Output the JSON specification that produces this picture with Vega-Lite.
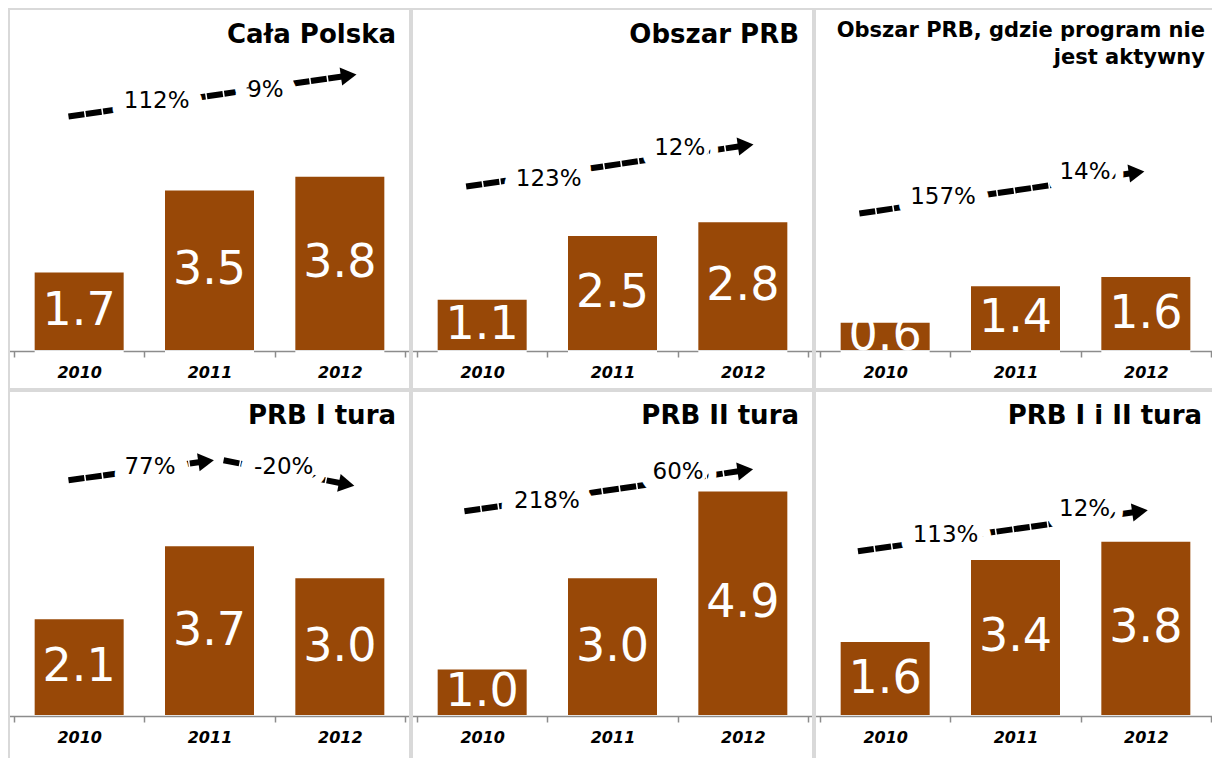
{
  "$schema": "https://vega.github.io/schema/vega-lite/v6.json",
  "padding": {"left": 8, "top": 8, "right": 0, "bottom": 0},
  "background": "white",
  "config": {
    "view": {"stroke": "#d9d9d9", "strokeWidth": 2},
    "font": "DejaVu Sans",
    "text": {"font": "DejaVu Sans"}
  },
  "data": {
    "values": [
      {"row": 1, "panel": "Cała Polska", "kind": "bar", "year": 2010, "value": 1.7},
      {"row": 1, "panel": "Cała Polska", "kind": "bar", "year": 2011, "value": 3.5},
      {"row": 1, "panel": "Cała Polska", "kind": "bar", "year": 2012, "value": 3.8},
      {"row": 1, "panel": "Obszar PRB", "kind": "bar", "year": 2010, "value": 1.1},
      {"row": 1, "panel": "Obszar PRB", "kind": "bar", "year": 2011, "value": 2.5},
      {"row": 1, "panel": "Obszar PRB", "kind": "bar", "year": 2012, "value": 2.8},
      {"row": 1, "panel": "Obszar PRB, gdzie program nie\njest aktywny", "kind": "bar", "year": 2010, "value": 0.6},
      {"row": 1, "panel": "Obszar PRB, gdzie program nie\njest aktywny", "kind": "bar", "year": 2011, "value": 1.4},
      {"row": 1, "panel": "Obszar PRB, gdzie program nie\njest aktywny", "kind": "bar", "year": 2012, "value": 1.6},
      {"row": 2, "panel": "PRB I tura", "kind": "bar", "year": 2010, "value": 2.1},
      {"row": 2, "panel": "PRB I tura", "kind": "bar", "year": 2011, "value": 3.7},
      {"row": 2, "panel": "PRB I tura", "kind": "bar", "year": 2012, "value": 3.0},
      {"row": 2, "panel": "PRB II tura", "kind": "bar", "year": 2010, "value": 1.0},
      {"row": 2, "panel": "PRB II tura", "kind": "bar", "year": 2011, "value": 3.0},
      {"row": 2, "panel": "PRB II tura", "kind": "bar", "year": 2012, "value": 4.9},
      {"row": 2, "panel": "PRB I i II tura", "kind": "bar", "year": 2010, "value": 1.6},
      {"row": 2, "panel": "PRB I i II tura", "kind": "bar", "year": 2011, "value": 3.4},
      {"row": 2, "panel": "PRB I i II tura", "kind": "bar", "year": 2012, "value": 3.8},

      {"row": 1, "panel": "Cała Polska", "kind": "arrow", "x": 2009.918, "y": 5.12, "x2": 2012.068, "y2": 6.02, "dir": "up"},
      {"row": 1, "panel": "Obszar PRB", "kind": "arrow", "x": 2009.877, "y": 3.585, "x2": 2012.022, "y2": 4.485, "dir": "up"},
      {"row": 1, "panel": "Obszar PRB, gdzie program nie\njest aktywny", "kind": "arrow", "x": 2009.802, "y": 2.993, "x2": 2011.929, "y2": 3.893, "dir": "up"},
      {"row": 2, "panel": "PRB I tura", "kind": "arrow", "x": 2009.918, "y": 5.147, "x2": 2010.974, "y2": 5.564, "dir": "up"},
      {"row": 2, "panel": "PRB I tura", "kind": "arrow", "x": 2011.108, "y": 5.586, "x2": 2012.052, "y2": 5.059, "dir": "down"},
      {"row": 2, "panel": "PRB II tura", "kind": "arrow", "x": 2009.864, "y": 4.467, "x2": 2012.019, "y2": 5.366, "dir": "up"},
      {"row": 2, "panel": "PRB I i II tura", "kind": "arrow", "x": 2009.791, "y": 3.59, "x2": 2011.955, "y2": 4.467, "dir": "up"},

      {"row": 1, "panel": "Cała Polska", "kind": "pct", "x": 2010.595, "y": 5.45, "pct": "112%"},
      {"row": 1, "panel": "Cała Polska", "kind": "pct", "x": 2011.429, "y": 5.71, "pct": "9%"},
      {"row": 1, "panel": "Obszar PRB", "kind": "pct", "x": 2010.51, "y": 3.76, "pct": "123%"},
      {"row": 1, "panel": "Obszar PRB", "kind": "pct", "x": 2011.516, "y": 4.42, "pct": "12%"},
      {"row": 1, "panel": "Obszar PRB, gdzie program nie\njest aktywny", "kind": "pct", "x": 2010.444, "y": 3.366, "pct": "157%"},
      {"row": 1, "panel": "Obszar PRB, gdzie program nie\njest aktywny", "kind": "pct", "x": 2011.533, "y": 3.914, "pct": "14%"},
      {"row": 2, "panel": "PRB I tura", "kind": "pct", "x": 2010.543, "y": 5.432, "pct": "77%"},
      {"row": 2, "panel": "PRB I tura", "kind": "pct", "x": 2011.569, "y": 5.432, "pct": "-20%"},
      {"row": 2, "panel": "PRB II tura", "kind": "pct", "x": 2010.497, "y": 4.686, "pct": "218%"},
      {"row": 2, "panel": "PRB II tura", "kind": "pct", "x": 2011.503, "y": 5.322, "pct": "60%"},
      {"row": 2, "panel": "PRB I i II tura", "kind": "pct", "x": 2010.463, "y": 3.941, "pct": "113%"},
      {"row": 2, "panel": "PRB I i II tura", "kind": "pct", "x": 2011.53, "y": 4.511, "pct": "12%"}
    ]
  },
  "spacing": 0,
  "vconcat": [
    {
      "transform": [{"filter": "datum.row == 1"}],
      "facet": {"column": {"field": "panel", "type": "nominal", "header": null, "sort": ["Cała Polska", "Obszar PRB", "Obszar PRB, gdzie program nie\njest aktywny"]}},
      "spacing": 0,
      "spec": {
        "width": 401,
        "height": 380,
        "resolve": {"scale": {"y": "independent"}},
        "layer": [
          {
            "transform": [{"filter": "datum.kind == 'arrow'"}],
            "mark": {"type": "rule", "strokeWidth": 6, "strokeDash": [16, 1.5], "color": "black"},
            "encoding": {
              "x": {"field": "x", "type": "quantitative", "scale": {"domain": [2009.5, 2012.5], "nice": false, "zero": false},
                "axis": {"title": null, "orient": "bottom", "offset": -39, "zindex": 1, "values": [2009.5, 2010, 2010.5, 2011, 2011.5, 2012, 2012.5], "labelExpr": "datum.value % 1 == 0 ? format(datum.value, 'd') : ''", "labelOverlap": false, "labelFlush": false, "domainColor": "#8c8c8c", "domainWidth": 1.5, "tickColor": "#8c8c8c", "tickWidth": 1.5, "tickSize": 6, "tickOpacity": {"condition": {"test": "datum.value % 1 == 0", "value": 0}, "value": 1}, "grid": false, "labelAngle": 0, "labelFont": "DejaVu Sans", "labelFontSize": 16, "labelFontWeight": "bold", "labelFontStyle": "italic", "labelColor": "black", "labelPadding": 7}},
              "x2": {"field": "x2"},
              "y": {"field": "y", "type": "quantitative", "scale": {"domain": [-0.855, 7.478], "nice": false, "zero": false}, "axis": null},
              "y2": {"field": "y2"}
            }
          },
          {
            "transform": [{"filter": "datum.kind == 'pct'"}],
            "mark": {"type": "text", "fontSize": 23, "fill": "white", "stroke": "white", "strokeWidth": 28, "strokeJoin": "round", "baseline": "middle"},
            "encoding": {
              "x": {"field": "x", "type": "quantitative"},
              "y": {"field": "y", "type": "quantitative", "scale": {"domain": [-0.855, 7.478], "nice": false, "zero": false}, "axis": null},
              "text": {"field": "pct"}
            }
          },
          {
            "transform": [{"filter": "datum.kind == 'pct'"}],
            "mark": {"type": "text", "fontSize": 23, "color": "black", "baseline": "middle"},
            "encoding": {
              "x": {"field": "x", "type": "quantitative"},
              "y": {"field": "y", "type": "quantitative", "scale": {"domain": [-0.855, 7.478], "nice": false, "zero": false}, "axis": null},
              "text": {"field": "pct"}
            }
          },
          {
            "transform": [{"filter": "datum.kind == 'arrow'"}],
            "mark": {"type": "point", "shape": "triangle-right", "filled": true, "size": 330, "color": "black", "opacity": 1},
            "encoding": {
              "x": {"field": "x2", "type": "quantitative"},
              "y": {"field": "y2", "type": "quantitative", "scale": {"domain": [-0.855, 7.478], "nice": false, "zero": false}, "axis": null},
              "angle": {"field": "dir", "type": "nominal", "scale": {"domain": ["up", "down"], "range": [-8, 11]}, "legend": null}
            }
          },
          {
            "transform": [{"filter": "datum.kind == 'bar'"}],
            "mark": {"type": "bar", "color": "#984807", "width": 89},
            "encoding": {
              "x": {"field": "year", "type": "quantitative"},
              "y": {"field": "value", "type": "quantitative", "scale": {"domain": [-0.855, 7.478], "nice": false, "zero": false}, "axis": null}
            }
          },
          {
            "transform": [{"filter": "datum.kind == 'bar'"}],
            "mark": {"type": "text", "color": "white", "fontSize": 46, "baseline": "middle"},
            "encoding": {
              "x": {"field": "year", "type": "quantitative"},
              "y": {"field": "value", "type": "quantitative", "scale": {"domain": [-1.71, 14.956], "nice": false, "zero": false}, "axis": null},
              "text": {"field": "value", "type": "quantitative", "format": ".1f"}
            }
          },
          {
            "transform": [{"filter": "datum.kind == 'bar'"}],
            "mark": {"type": "bar", "color": "white", "width": 89},
            "encoding": {
              "x": {"field": "year", "type": "quantitative"},
              "y": {"datum": -0.02, "type": "quantitative", "scale": {"domain": [-0.855, 7.478], "nice": false, "zero": false}, "axis": null},
              "y2": {"datum": -0.24}
            }
          },
          {
            "transform": [{"filter": "datum.kind == 'bar' && datum.year == 2012 && indexof(datum.panel, '\\n') < 0"}],
            "mark": {"type": "text", "align": "right", "baseline": "top", "fontSize": 26, "fontWeight": "bold", "dx": -9, "color": "black"},
            "encoding": {
              "x": {"datum": 2012.5, "type": "quantitative"},
              "y": {"datum": 7.184, "type": "quantitative", "scale": {"domain": [-0.855, 7.478], "nice": false, "zero": false}, "axis": null},
              "text": {"field": "panel"}
            }
          },
          {
            "transform": [{"filter": "datum.kind == 'bar' && datum.year == 2012 && indexof(datum.panel, '\\n') >= 0"}],
            "mark": {"type": "text", "align": "right", "baseline": "top", "fontSize": 21, "fontWeight": "bold", "dx": -6, "lineBreak": "\n", "lineHeight": 27, "color": "black"},
            "encoding": {
              "x": {"datum": 2012.5, "type": "quantitative"},
              "y": {"datum": 7.228, "type": "quantitative", "scale": {"domain": [-0.855, 7.478], "nice": false, "zero": false}, "axis": null},
              "text": {"field": "panel"}
            }
          }
        ]
      }
    },
    {
      "transform": [{"filter": "datum.row == 2"}],
      "facet": {"column": {"field": "panel", "type": "nominal", "header": null, "sort": ["PRB I tura", "PRB II tura", "PRB I i II tura"]}},
      "spacing": 0,
      "spec": {
        "width": 401,
        "height": 369,
        "resolve": {"scale": {"y": "independent"}},
        "layer": [
          {
            "transform": [{"filter": "datum.kind == 'arrow'"}],
            "mark": {"type": "rule", "strokeWidth": 6, "strokeDash": [16, 1.5], "color": "black"},
            "encoding": {
              "x": {"field": "x", "type": "quantitative", "scale": {"domain": [2009.5, 2012.5], "nice": false, "zero": false},
                "axis": {"title": null, "orient": "bottom", "offset": -45, "zindex": 1, "values": [2009.5, 2010, 2010.5, 2011, 2011.5, 2012, 2012.5], "labelExpr": "datum.value % 1 == 0 ? format(datum.value, 'd') : ''", "labelOverlap": false, "labelFlush": false, "domainColor": "#8c8c8c", "domainWidth": 1.5, "tickColor": "#8c8c8c", "tickWidth": 1.5, "tickSize": 6, "tickOpacity": {"condition": {"test": "datum.value % 1 == 0", "value": 0}, "value": 1}, "grid": false, "labelAngle": 0, "labelFont": "DejaVu Sans", "labelFontSize": 16, "labelFontWeight": "bold", "labelFontStyle": "italic", "labelColor": "black", "labelPadding": 7}},
              "x2": {"field": "x2"},
              "y": {"field": "y", "type": "quantitative", "scale": {"domain": [-0.987, 7.105], "nice": false, "zero": false}, "axis": null},
              "y2": {"field": "y2"}
            }
          },
          {
            "transform": [{"filter": "datum.kind == 'pct'"}],
            "mark": {"type": "text", "fontSize": 23, "fill": "white", "stroke": "white", "strokeWidth": 28, "strokeJoin": "round", "baseline": "middle"},
            "encoding": {
              "x": {"field": "x", "type": "quantitative"},
              "y": {"field": "y", "type": "quantitative", "scale": {"domain": [-0.987, 7.105], "nice": false, "zero": false}, "axis": null},
              "text": {"field": "pct"}
            }
          },
          {
            "transform": [{"filter": "datum.kind == 'pct'"}],
            "mark": {"type": "text", "fontSize": 23, "color": "black", "baseline": "middle"},
            "encoding": {
              "x": {"field": "x", "type": "quantitative"},
              "y": {"field": "y", "type": "quantitative", "scale": {"domain": [-0.987, 7.105], "nice": false, "zero": false}, "axis": null},
              "text": {"field": "pct"}
            }
          },
          {
            "transform": [{"filter": "datum.kind == 'arrow'"}],
            "mark": {"type": "point", "shape": "triangle-right", "filled": true, "size": 330, "color": "black", "opacity": 1},
            "encoding": {
              "x": {"field": "x2", "type": "quantitative"},
              "y": {"field": "y2", "type": "quantitative", "scale": {"domain": [-0.987, 7.105], "nice": false, "zero": false}, "axis": null},
              "angle": {"field": "dir", "type": "nominal", "scale": {"domain": ["up", "down"], "range": [-8, 11]}, "legend": null}
            }
          },
          {
            "transform": [{"filter": "datum.kind == 'bar'"}],
            "mark": {"type": "bar", "color": "#984807", "width": 89},
            "encoding": {
              "x": {"field": "year", "type": "quantitative"},
              "y": {"field": "value", "type": "quantitative", "scale": {"domain": [-0.987, 7.105], "nice": false, "zero": false}, "axis": null}
            }
          },
          {
            "transform": [{"filter": "datum.kind == 'bar'"}],
            "mark": {"type": "text", "color": "white", "fontSize": 46, "baseline": "middle"},
            "encoding": {
              "x": {"field": "year", "type": "quantitative"},
              "y": {"field": "value", "type": "quantitative", "scale": {"domain": [-1.974, 14.21], "nice": false, "zero": false}, "axis": null},
              "text": {"field": "value", "type": "quantitative", "format": ".1f"}
            }
          },
          {
            "transform": [{"filter": "datum.kind == 'bar' && datum.year == 2012"}],
            "mark": {"type": "text", "align": "right", "baseline": "top", "fontSize": 26, "fontWeight": "bold", "dx": -9, "color": "black"},
            "encoding": {
              "x": {"datum": 2012.5, "type": "quantitative"},
              "y": {"datum": 6.84, "type": "quantitative", "scale": {"domain": [-0.987, 7.105], "nice": false, "zero": false}, "axis": null},
              "text": {"field": "panel"}
            }
          }
        ]
      }
    }
  ]
}
